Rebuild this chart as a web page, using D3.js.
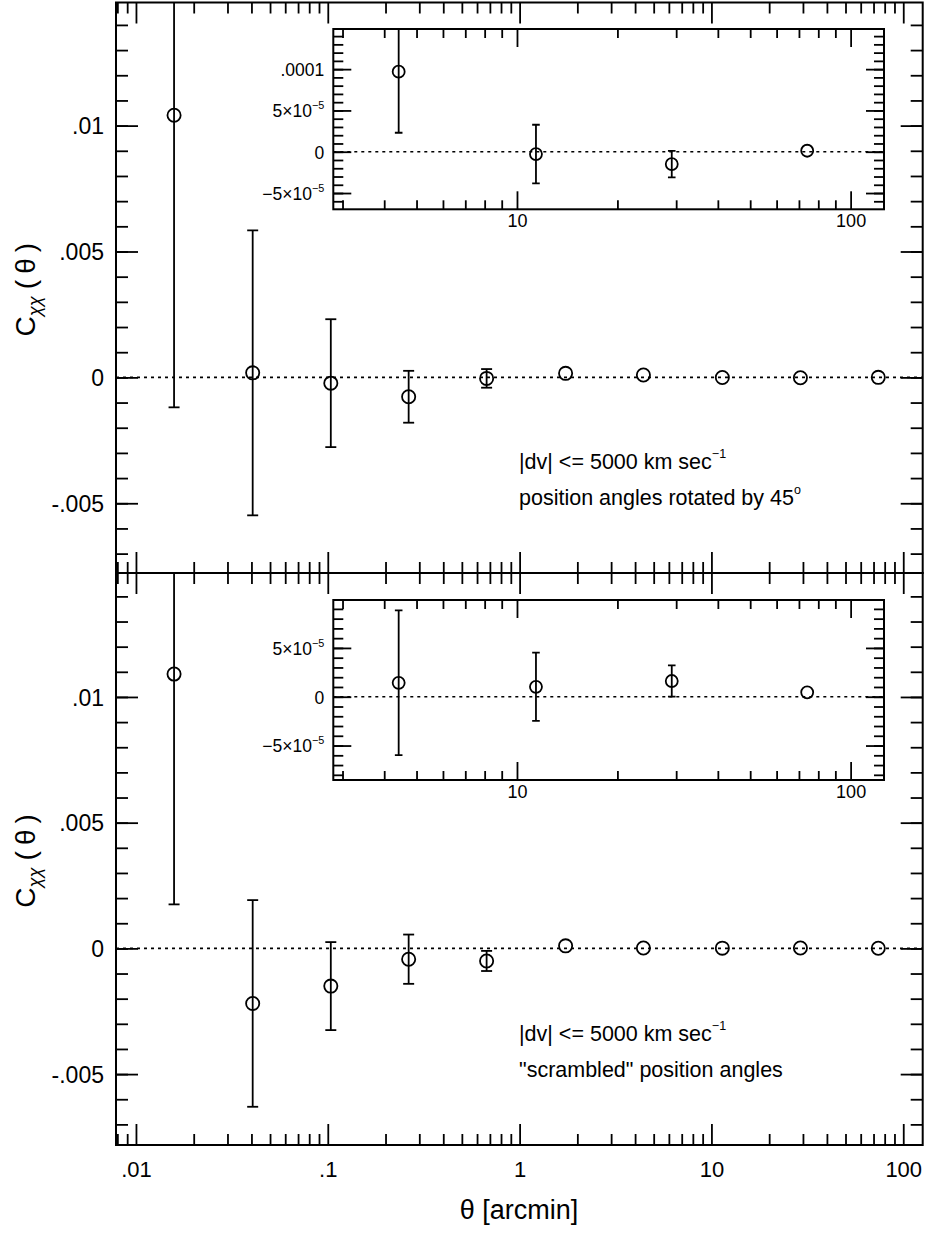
<!DOCTYPE html>
<html><head><meta charset="utf-8">
<script src="https://cdn.jsdelivr.net/npm/d3@7"></script>
<style>
body{margin:0;background:#fff}
svg text{font-family:"Liberation Sans",Arial,Helvetica,sans-serif;fill:#000}
</style>
</head><body>
<svg id="chart" width="925" height="1234"></svg>
<script>
// ---------------- data ----------------
const theta = [0.0158, 0.0406, 0.1037, 0.264, 0.673, 1.737, 4.42, 11.4, 29.1, 74.1];
const rotatedC   = [0.01041, 0.00018, -0.00023, -0.00077, -0.00004, 0.00016, 0.0000969, -0.0000028, -0.0000150, 0.0000012];
const rotatedErr = [0.0116, 0.00566, 0.00254, 0.00103, 0.00037, 0.00012, 0.0000739, 0.0000355, 0.0000160, 0.0000050];
const scrambledC   = [0.01091, -0.00219, -0.0015, -0.00043, -0.0005, 0.0001, 0.0000143, 0.0000102, 0.0000161, 0.0000045];
const scrambledErr = [0.00916, 0.00411, 0.00175, 0.00098, 0.0004, 0.00012, 0.0000742, 0.0000350, 0.0000160, 0.0000050];
const insetFirstIndex = 6;

const xMajorTicks  = [0.01, 0.1, 1, 10, 100];
const xMajorLabels = [".01", ".1", "1", "10", "100"];
const yMajorTicks  = [0.01, 0.005, 0, -0.005];
const yMajorLabels = [".01", ".005", "0", "-.005"];
const insetXMajorTicks  = [10, 100];
const insetXMajorLabels = ["10", "100"];
const insetTopYTicks  = [0.0001, 5e-5, 0, -5e-5];
const insetTopYLabels = [[".0001", ""], ["5×10", "−5"], ["0", ""], ["−5×10", "−5"]];
const insetBotYTicks  = [5e-5, 0, -5e-5];
const insetBotYLabels = [["5×10", "−5"], ["0", ""], ["−5×10", "−5"]];

const notesTop = [["|dv| <= 5000 km sec", "−1"], ["position angles rotated by 45", "o"]];
const notesBot = [["|dv| <= 5000 km sec", "−1"], ["\"scrambled\" position angles", ""]];

// ---------------- layout ----------------
const svg = d3.select("#chart");
const L = 116, R = 922.7;
const x = d3.scaleLog().domain([0.00787, 126.3]).range([L, R]);
const xi = d3.scaleLog().domain([2.815, 125.9]).range([333.3, 884]);

function logMinor(scale) {
  const [a, b] = scale.domain(); const out = [];
  for (let e = -4; e <= 3; e++) for (let k = 2; k <= 9; k++) {
    const v = k * Math.pow(10, e); if (v >= a && v <= b) out.push(v);
  }
  return out;
}
function linMinor(scale, step) {
  const [a, b] = scale.domain(); const out = [];
  for (let i = Math.ceil(a / step - 1e-9); i * step <= b + 1e-12; i++) out.push(i * step);
  return out;
}
function clean(sel, sw) {
  sel.select(".domain").remove();
  sel.selectAll(".tick line").attr("stroke", "#000").attr("stroke-width", sw);
  sel.attr("font-family", null).attr("font-size", null);
}

function axes(g, xs, ys, o) {
  const [x0, x1] = xs.range(), [yb, yt] = ys.range();
  const xMin = logMinor(xs), yMin = linMinor(ys, o.yStep);
  g.append("g").attr("transform", `translate(0,${yb})`)
    .call(d3.axisBottom(xs).tickValues(xMin).tickSize(-o.minor).tickFormat("")).call(s => clean(s, 1.8));
  const xb = g.append("g").attr("transform", `translate(0,${yb})`)
    .call(d3.axisBottom(xs).tickValues(o.xMaj).tickSize(-o.major).tickPadding(o.xPad)
      .tickFormat(d => o.xLab ? o.xLab[o.xMaj.indexOf(d)] : "")).call(s => clean(s, 1.8));
  xb.selectAll(".tick text").attr("font-size", o.xFs).attr("dy", "0.71em");
  g.append("g").attr("transform", `translate(0,${yt})`)
    .call(d3.axisTop(xs).tickValues(xMin).tickSize(-o.minor).tickFormat("")).call(s => clean(s, 1.8));
  g.append("g").attr("transform", `translate(0,${yt})`)
    .call(d3.axisTop(xs).tickValues(o.xMaj).tickSize(-o.major).tickFormat("")).call(s => clean(s, 1.8));
  g.append("g").attr("transform", `translate(${x0},0)`)
    .call(d3.axisLeft(ys).tickValues(yMin).tickSize(-o.yminor).tickFormat("")).call(s => clean(s, 1.8));
  const yl = g.append("g").attr("transform", `translate(${x0},0)`)
    .call(d3.axisLeft(ys).tickValues(o.yMaj).tickSize(-o.ymajor).tickPadding(o.yPad).tickFormat("")).call(s => clean(s, 1.8));
  yl.selectAll(".tick text").each(function (d) {
    const lab = o.yLab[o.yMaj.indexOf(d)];
    const t = d3.select(this).attr("font-size", o.yFs).attr("text-anchor", "end").attr("dy", "0.36em").text(lab[0]);
    if (lab[1]) t.append("tspan").attr("font-size", o.yFs * 0.62).attr("dy", "-0.75em").text(lab[1]);
  });
  g.append("g").attr("transform", `translate(${x1},0)`)
    .call(d3.axisRight(ys).tickValues(yMin).tickSize(-o.yminor).tickFormat("")).call(s => clean(s, 1.8));
  g.append("g").attr("transform", `translate(${x1},0)`)
    .call(d3.axisRight(ys).tickValues(o.yMaj).tickSize(-o.ymajor).tickFormat("")).call(s => clean(s, 1.8));
  g.append("rect").attr("x", x0).attr("y", yt).attr("width", x1 - x0).attr("height", yb - yt)
    .attr("fill", "none").attr("stroke", "#000").attr("stroke-width", 2);
}

function points(g, xs, ys, xsData, vals, errs, cap, r, id) {
  const [x0, x1] = xs.range(), [yb, yt] = ys.range();
  svg.append("clipPath").attr("id", id).append("rect")
    .attr("x", x0).attr("y", yt).attr("width", x1 - x0).attr("height", yb - yt);
  const c = g.append("g").attr("clip-path", `url(#${id})`);
  c.append("line").attr("x1", x0).attr("x2", x1).attr("y1", ys(0)).attr("y2", ys(0))
    .attr("stroke", "#000").attr("stroke-width", 1.6).attr("stroke-dasharray", "3,4");
  const data = xsData.map((t, i) => ({ t, v: vals[i], e: errs[i] }));
  // error bars hidden by the marker are not drawn
  const visible = data.filter(d => Math.abs(ys(d.v + d.e) - ys(d.v)) > r + 1);
  const eb = c.selectAll(".eb").data(visible).join("g");
  eb.append("line").attr("x1", d => xs(d.t)).attr("x2", d => xs(d.t))
    .attr("y1", d => ys(d.v + d.e)).attr("y2", d => ys(d.v - d.e)).attr("stroke", "#000").attr("stroke-width", 1.8);
  eb.append("line").attr("x1", d => xs(d.t) - cap).attr("x2", d => xs(d.t) + cap)
    .attr("y1", d => ys(d.v + d.e)).attr("y2", d => ys(d.v + d.e)).attr("stroke", "#000").attr("stroke-width", 1.8);
  eb.append("line").attr("x1", d => xs(d.t) - cap).attr("x2", d => xs(d.t) + cap)
    .attr("y1", d => ys(d.v - d.e)).attr("y2", d => ys(d.v - d.e)).attr("stroke", "#000").attr("stroke-width", 1.8);
  c.selectAll(".pt").data(data).join("circle").attr("cx", d => xs(d.t)).attr("cy", d => ys(d.v))
    .attr("r", r).attr("fill", "none").attr("stroke", "#000").attr("stroke-width", 1.8);
}

const panels = [
  { top: 2.5, bottom: 573, yd: [-0.00777, 0.01489], vals: rotatedC, errs: rotatedErr, notes: notesTop, noteY: [469, 505],
    inset: { top: 29, bottom: 209.3, yd: [-6.97e-5, 1.486e-4], ticks: insetTopYTicks, labels: insetTopYLabels }, xLab: null, id: "a" },
  { top: 573, bottom: 1145, yd: [-0.00782, 0.01493], vals: scrambledC, errs: scrambledErr, notes: notesBot, noteY: [1041, 1077],
    inset: { top: 600, bottom: 780, yd: [-8.53e-5, 9.91e-5], ticks: insetBotYTicks, labels: insetBotYLabels }, xLab: xMajorLabels, id: "b" }
];

panels.forEach(p => {
  const g = svg.append("g");
  const y = d3.scaleLinear().domain(p.yd).range([p.bottom, p.top]);
  points(g, x, y, theta, p.vals, p.errs, 5.5, 6.6, "clip" + p.id);
  axes(g, x, y, { minor: 11, major: 21, yminor: 12, ymajor: 22, yStep: 0.001,
    xMaj: xMajorTicks, xLab: p.xLab, xPad: 16, xFs: 22,
    yMaj: yMajorTicks, yLab: yMajorLabels.map(s => [s, ""]), yPad: 12, yFs: 23 });

  const gi = svg.append("g");
  const yi = d3.scaleLinear().domain(p.inset.yd).range([p.inset.bottom, p.inset.top]);
  gi.append("rect").attr("x", 333.3).attr("y", p.inset.top).attr("width", 884 - 333.3)
    .attr("height", p.inset.bottom - p.inset.top).attr("fill", "#fff");
  points(gi, xi, yi, theta.slice(insetFirstIndex), p.vals.slice(insetFirstIndex), p.errs.slice(insetFirstIndex), 3.8, 6, "clipi" + p.id);
  axes(gi, xi, yi, { minor: 9, major: 18, yminor: 10, ymajor: 18, yStep: 1e-5,
    xMaj: insetXMajorTicks, xLab: insetXMajorLabels, xPad: 5, xFs: 18,
    yMaj: p.inset.ticks, yLab: p.inset.labels, yPad: 9, yFs: 17.5 });

  p.notes.forEach((n, i) => {
    const t = svg.append("text").attr("x", 519).attr("y", p.noteY[i]).attr("font-size", 21.5).text(n[0]);
    if (n[1]) t.append("tspan").attr("font-size", 12.5).attr("dy", "-0.85em").text(n[1]);
  });

  const cy = (p.top + p.bottom) / 2 + 2;
  const yt = svg.append("text").attr("transform", `translate(35,${cy}) rotate(-90)`)
    .attr("text-anchor", "middle").attr("font-size", 28);
  yt.append("tspan").text("C");
  yt.append("tspan").attr("font-size", 18.5).attr("font-style", "italic").attr("dy", 6).text("χχ");
  yt.append("tspan").attr("dy", -6).attr("dx", 7).text("(");
  yt.append("tspan").attr("dx", 6).text("θ");
  yt.append("tspan").attr("dx", 6).text(")");
});

svg.append("text").attr("x", 519).attr("y", 1219).attr("text-anchor", "middle")
  .attr("font-size", 27).text("θ [arcmin]");
</script>
</body></html>
